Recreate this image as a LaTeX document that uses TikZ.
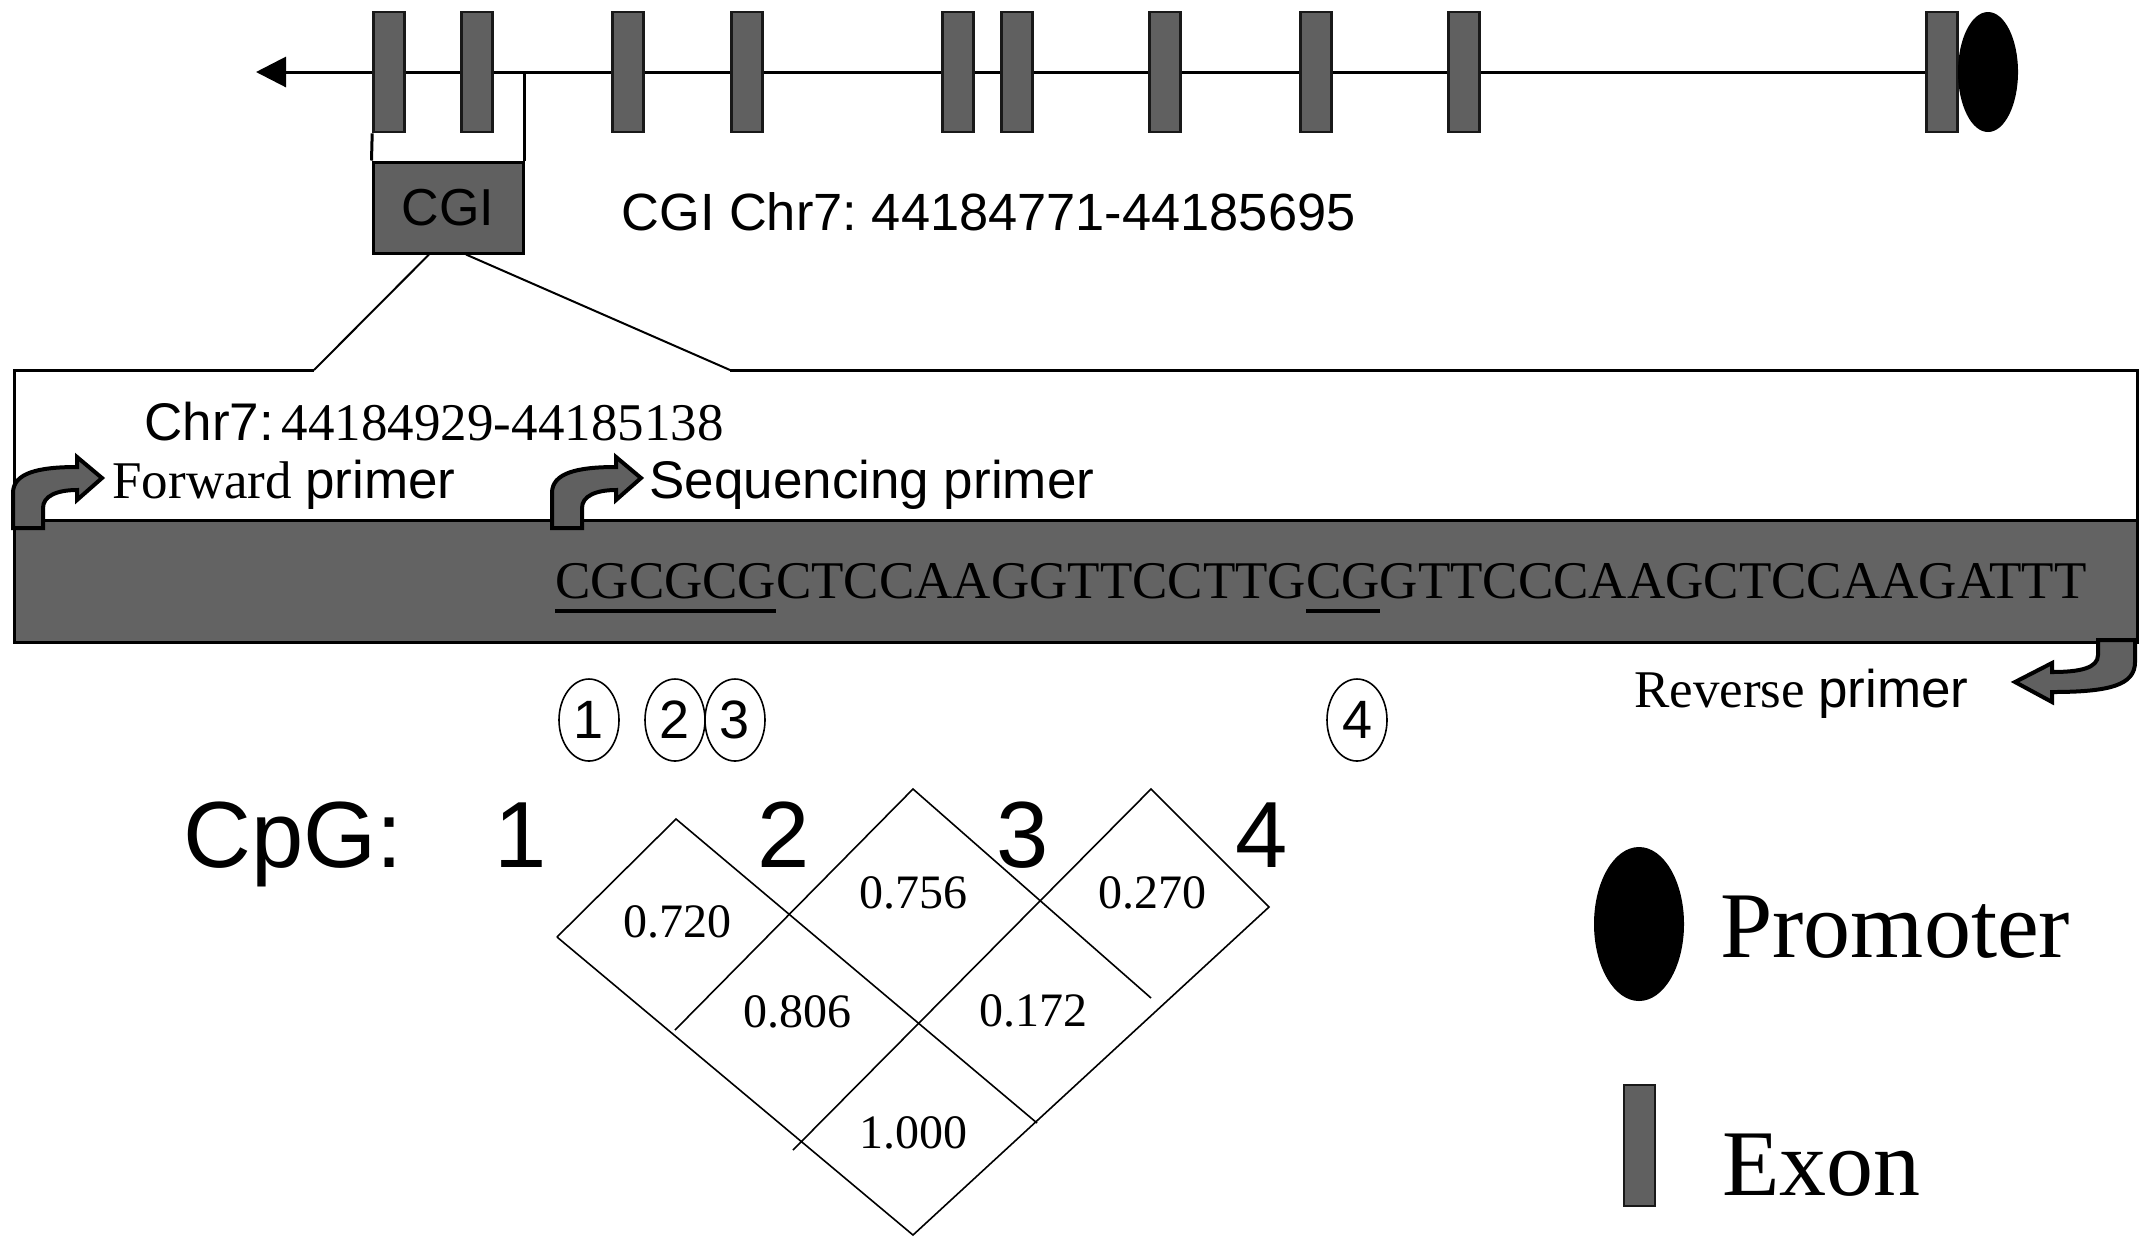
\documentclass[tikz,border=0pt]{standalone}
\usepackage{fontspec}
\setmainfont{Liberation Serif}
\newfontfamily\arial{Liberation Sans}
\usetikzlibrary{arrows.meta,shapes.geometric,calc}
\definecolor{exgray}{RGB}{96,96,96}
\definecolor{bandgray}{RGB}{99,99,99}
\newcommand\myul[1]{\setbox0\hbox{#1}\rlap{\rule[-7.5pt]{\wd0}{2pt}}\box0}
\begin{document}
\begin{tikzpicture}[x=0.5pt,y=-0.5pt,
  exon/.style={draw=black!90, fill=exgray, line width=1.3pt, minimum width=15.5pt, minimum height=60pt, inner sep=0pt},
  lbl/.style={inner sep=0pt, anchor=base west, font=\fontsize{26.5}{30}\selectfont},
  slbl/.style={inner sep=0pt, anchor=base west, font=\arial\fontsize{26.5}{30}\selectfont},
  cnum/.style={ellipse, draw, line width=0.8pt, minimum width=30pt, minimum height=41pt, inner sep=0pt, font=\arial\fontsize{27}{30}\selectfont},
  ldv/.style={inner sep=0pt, font=\fontsize{24}{28}\selectfont},
  bigs/.style={inner sep=0pt, anchor=base west, font=\arial\fontsize{47}{50}\selectfont},
  bigt/.style={inner sep=0pt, anchor=base west, font=\fontsize{47}{50}\selectfont},
  primarrow/.style={fill=exgray, draw=black, line width=2pt, line join=miter},
  ldline/.style={line width=0.8pt}]
\useasboundingbox (0,0) rectangle (2150,1250);

% gene structure
\foreach \n/\x in {1/389,2/477,3/628,4/747,5/958,6/1017,7/1165,8/1316,9/1464,10/1942}
  \node[exon] (e\n) at (\x,72) {};
\node[ellipse, fill=black, minimum width=30pt, minimum height=60pt, inner sep=0pt] (prom) at (1988,72) {};
\coordinate (tip) at (256,72);
\draw[line width=1.5pt] (e10.west) -- (e9.east) (e9.west) -- (e8.east) (e8.west) -- (e7.east)
  (e7.west) -- (e6.east) (e6.west) -- (e5.east) (e5.west) -- (e4.east) (e4.west) -- (e3.east)
  (e3.west) -- (e2.east) (e2.west) -- (e1.east);
\draw[line width=1.5pt, -{Triangle[length=15pt,width=15pt]}] (e1.west) -- (tip);

% CGI
\node[draw, fill=exgray, line width=1.5pt, minimum width=75pt, minimum height=45.5pt, inner sep=0pt,
  font=\arial\fontsize{26}{30}\selectfont] (cgi) at (448,207.5) {CGI};
\draw[line width=1.5pt] (cgi.north west) -- (e1.south west);
\draw[line width=1.5pt] (cgi.north east) -- (cgi.north east |- e1.center);
\node[slbl, font=\arial\fontsize{26.2}{30}\selectfont] (cgitxt) at (621,230) {CGI Chr7:\hspace{0.28em}44184771-44185695};

% zoom box
\coordinate (fl) at (314,370);
\coordinate (fr) at (730,370);
\fill[bandgray] (14,520) rectangle (2137,642);
\draw[line width=1.5pt] (fl) -- (14,370) -- (14,642) -- (2137,642) -- (2137,370) -- (fr);
\draw[line width=1.5pt] (14,520) -- (2137,520);
\draw[line width=1pt] ([xshift=-9.5pt]cgi.south) -- (fl);
\draw[line width=1pt] ([xshift=9pt]cgi.south) -- (fr);

\node[lbl] (chr) at (144,440) {{\arial Chr7:}\hspace{0.15em}44184929-44185138};

% forward primer arrow
\begin{scope}[shift={(13,528)}]
\draw[primarrow] (0,0) -- (0,-35) .. controls (0,-55) and (25,-61) .. (64,-61) -- (64,-71) -- (89,-50)
  -- (64,-28) -- (64,-38) .. controls (44,-38) and (30,-32) .. (30,-20) -- (30,0) -- cycle;
\end{scope}
\node[lbl] (fwd) at (112,498) {Forward {\arial primer}};

% sequencing primer arrow
\begin{scope}[shift={(552,528)}]
\draw[primarrow] (0,0) -- (0,-35) .. controls (0,-55) and (25,-61) .. (64,-61) -- (64,-71) -- (89,-50)
  -- (64,-28) -- (64,-38) .. controls (44,-38) and (30,-32) .. (30,-20) -- (30,0) -- cycle;
\end{scope}
\node[slbl] (seqp) at (649,498) {Sequencing primer};

% sequence
\node[lbl] (seq) at (555,598) {\myul{CGCGCG}CTCCAAGGTTCCTTG\myul{CG}GTTCCCAAGCTCCAAGATTT};

% reverse primer arrow
\draw[primarrow] (2098,640) -- (2098,655) .. controls (2098,668) and (2080,672) .. (2052,672)
  -- (2052,663) -- (2015,682) -- (2052,702) -- (2052,692)
  .. controls (2110,692) and (2135,685) .. (2135,662) -- (2135,640) -- cycle;
\node[lbl] (rev) at (1634,707) {Reverse {\arial primer}};

% circled CpG positions
\node[cnum] (c1) at (589,720) {1};
\node[cnum] (c2) at (675,720) {2};
\node[cnum] (c3) at (735,720) {3};
\node[cnum] (c4) at (1357,720) {4};

% CpG labels
\node[bigs] (cpg) at (183,867) {CpG:};
\node[bigs] (n1) at (494,867) {1};
\node[bigs] (n2) at (757,867) {2};
\node[bigs] (n3) at (996,867) {3};
\node[bigs] (n4) at (1235,867) {4};

% LD grid
\draw[ldline] (557,937) -- (676,819) -- (1037,1123);
\draw[ldline] (557,937) -- (913,1235) -- (1269,907) -- (1151,789) -- (793,1150);
\draw[ldline] (675,1030) -- (913,789) -- (1151,998);

\node[ldv] (v12) at (677,922) {0.720};
\node[ldv] (v23) at (913,893) {0.756};
\node[ldv] (v34) at (1152,893) {0.270};
\node[ldv] (v13) at (797,1012) {0.806};
\node[ldv] (v24) at (1033,1011) {0.172};
\node[ldv] (v14) at (913,1133) {1.000};

% legend
\node[ellipse, fill=black, minimum width=45pt, minimum height=77pt, inner sep=0pt] (lprom) at (1639,924) {};
\node[bigt] (lpromt) at (1720,957) {Promoter};
\node[exon, minimum height=60.5pt] (lex) at (1639.5,1145.5) {};
\node[bigt] (lext) at (1722,1195) {Exon};
\end{tikzpicture}
\end{document}
